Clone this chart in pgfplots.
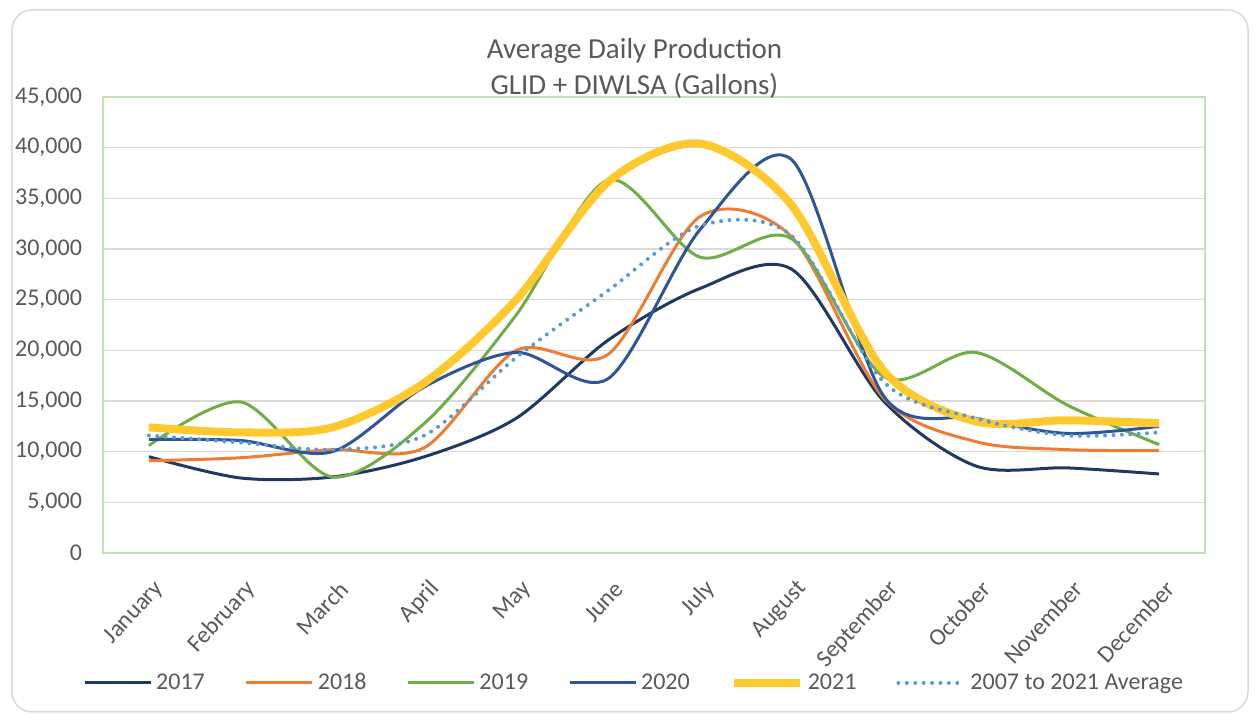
\documentclass[border=0pt]{standalone}
\usepackage{pgfplots}
\pgfplotsset{compat=1.18}
\usepackage{fontspec}
\setmainfont{Carlito}
\definecolor{txt}{HTML}{595959}
\definecolor{gridc}{HTML}{D9D9D9}
\definecolor{frame}{HTML}{C5E0B4}
\definecolor{c17}{HTML}{203864}
\definecolor{c18}{HTML}{ED7D31}
\definecolor{c19}{HTML}{70AD47}
\definecolor{c20}{HTML}{2F5597}
\definecolor{c21}{HTML}{FFC82C}
\definecolor{cavg}{HTML}{5B9BD5}
\begin{document}
\begin{tikzpicture}
\path[use as bounding box] (-51.5pt,-81pt) rectangle (577pt,276.5pt);
\draw[rounded corners=10pt, draw=gridc, line width=0.75pt] (-45.5pt,-79.5pt) rectangle (572.5pt,271.5pt);
\begin{axis}[
  scale only axis, width=551pt, height=228pt,
  xmin=-0.5, xmax=11.5, ymin=0, ymax=45000,
  xtick={0,...,11},
  xticklabels={January,February,March,April,May,June,July,August,September,October,November,December},
  ytick={0,5000,...,45000},
  scaled y ticks=false,
  /pgf/number format/1000 sep={,},
  /pgf/number format/assume math mode=true,
  yticklabel style={font=\fontsize{12}{14}\selectfont, text=txt, xshift=-7pt},
  xticklabel style={font=\fontsize{12}{14}\selectfont, text=txt, rotate=47, anchor=east, xshift=-4.5pt, yshift=-15pt},
  major tick length=0pt,
  ymajorgrids, grid style={draw=gridc, line width=0.75pt},
  axis line style={draw=frame, line width=0.75pt},
  title={Average Daily Production\\GLID + DIWLSA (Gallons)},
  title style={align=center, at={(0.4823,1)}, anchor=south, inner sep=0pt, yshift=-7pt, text=txt, font=\fontsize{14.5}{18}\selectfont},
  legend columns=6,
  legend style={draw=none, fill=none, at={(0.4828,-0.285)}, anchor=center, font=\fontsize{12}{14}\selectfont, text=txt,
    /tikz/every even column/.append style={column sep=18pt}},
  legend image code/.code={\draw[#1] (0pt,0pt) -- (33pt,0pt);},
  every axis plot/.append style={smooth, no markers},
]
\addplot[c17, line width=1.5pt] coordinates {(0,9500) (1,7400) (2,7500) (3,9500) (4,13300) (5,21000) (6,26100) (7,28000) (8,15000) (9,8600) (10,8400) (11,7800)};
\addlegendentry{2017}
\addplot[c18, line width=1.5pt] coordinates {(0,9100) (1,9400) (2,10200) (3,10400) (4,20000) (5,19600) (6,33200) (7,31200) (8,15300) (9,11000) (10,10200) (11,10100)};
\addlegendentry{2018}
\addplot[c19, line width=1.5pt] coordinates {(0,10600) (1,14900) (2,7500) (3,12800) (4,23500) (5,36800) (6,29200) (7,31000) (8,17400) (9,19800) (10,14600) (11,10700)};
\addlegendentry{2019}
\addplot[c20, line width=1.5pt] coordinates {(0,11200) (1,11100) (2,10000) (3,16400) (4,19800) (5,17200) (6,31900) (7,38800) (8,15500) (9,13300) (10,11800) (11,12500)};
\addlegendentry{2020}
\addplot[c21, line width=4pt] coordinates {(0,12400) (1,11900) (2,12400) (3,16800) (4,25000) (5,36600) (6,40400) (7,34300) (8,18000) (9,13000) (10,13100) (11,12800)};
\addlegendentry{2021}
\addplot[cavg, line width=2pt, line cap=round, dash pattern=on 0pt off 4.2pt] coordinates {(0,11600) (1,10900) (2,10200) (3,11600) (4,19300) (5,25900) (6,32300) (7,31300) (8,16900) (9,13300) (10,11600) (11,11900)};
\addlegendentry{2007 to 2021 Average}
\end{axis}
\end{tikzpicture}
\end{document}
